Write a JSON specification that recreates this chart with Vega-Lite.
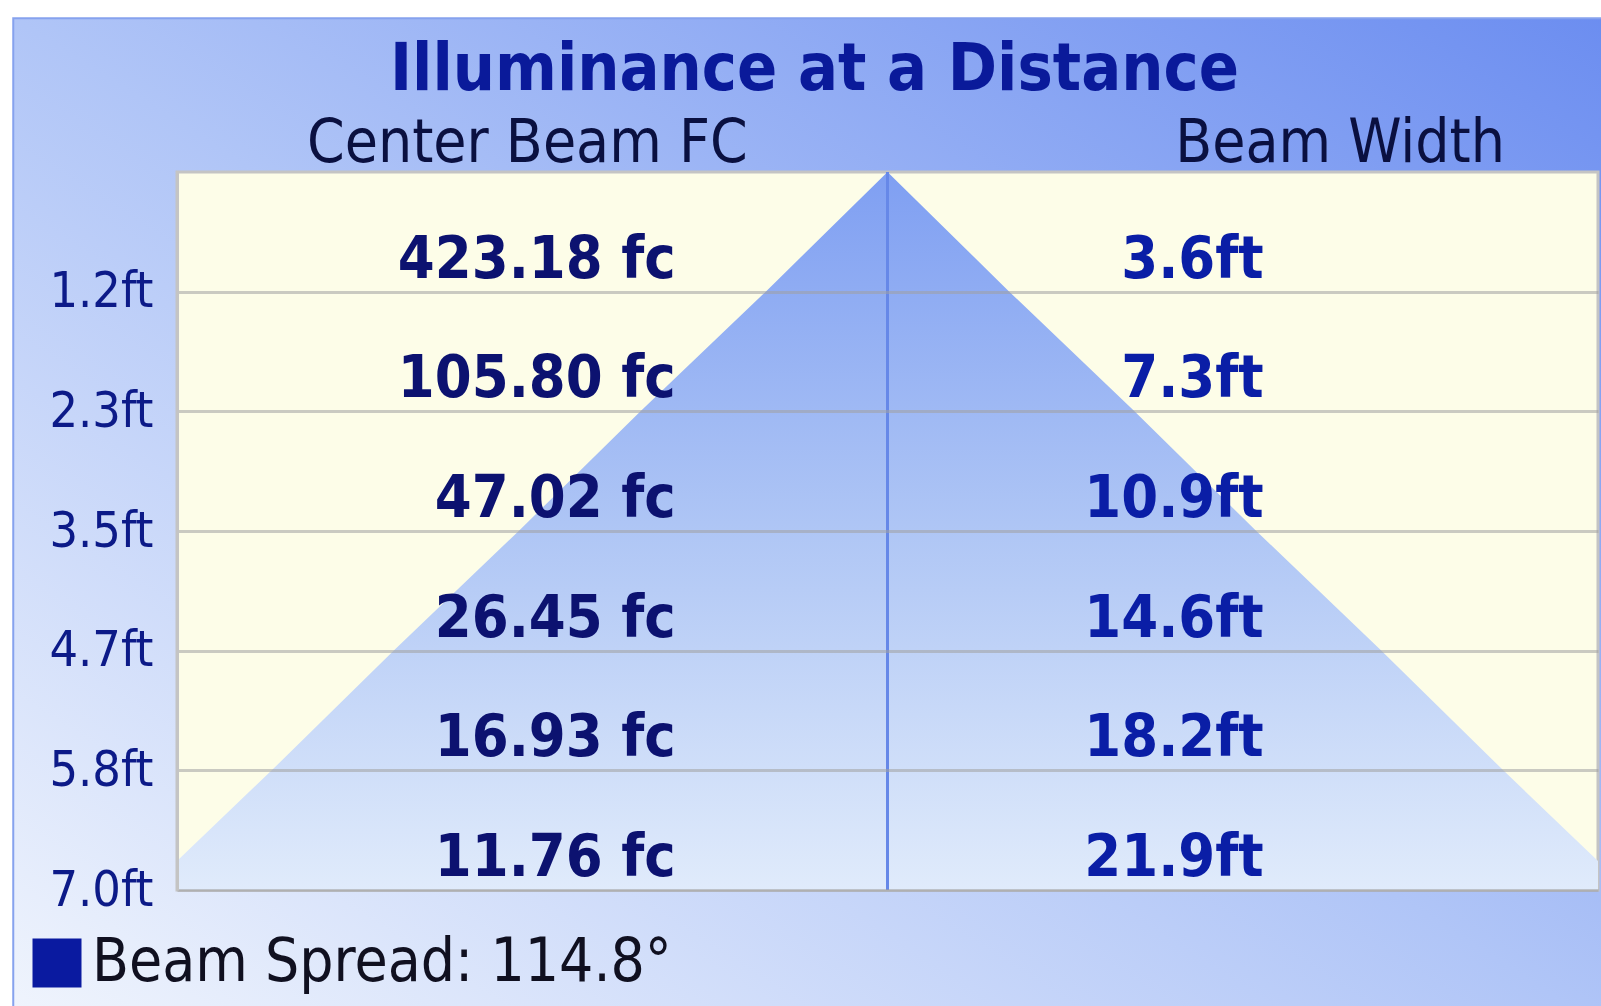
{
  "$schema": "https://vega.github.io/schema/vega-lite/v6.json",
  "width": 1421,
  "height": 718,
  "autosize": "none",
  "padding": {"left": 177, "top": 172, "right": 3, "bottom": 116},
  "background": "white",
  "datasets": {
    "rows": [
      {"dist": 1.1667, "fc": 423.18, "beam": 3.6},
      {"dist": 2.3333, "fc": 105.80, "beam": 7.3},
      {"dist": 3.5, "fc": 47.02, "beam": 10.9},
      {"dist": 4.6667, "fc": 26.45, "beam": 14.6},
      {"dist": 5.8333, "fc": 16.93, "beam": 18.2},
      {"dist": 7.0, "fc": 11.76, "beam": 21.9}
    ],
    "cone": [
      {"dist": 0, "lo": 0, "hi": 0},
      {"dist": 1.1667, "lo": -1.8, "hi": 1.8},
      {"dist": 2.3333, "lo": -3.65, "hi": 3.65},
      {"dist": 3.5, "lo": -5.45, "hi": 5.45},
      {"dist": 4.6667, "lo": -7.3, "hi": 7.3},
      {"dist": 5.8333, "lo": -9.1, "hi": 9.1},
      {"dist": 7.0, "lo": -10.95, "hi": 10.95}
    ],
    "spread": [{"label": "Beam Spread: 114.8°"}]
  },
  "layer": [
    {
      "data": {"values": [{}]},
      "mark": {
        "type": "rect",
        "clip": false,
        "stroke": "#86a2ee",
        "strokeWidth": 2,
        "fill": {
          "gradient": "linear",
          "x1": 0, "y1": 1, "x2": 1, "y2": 0,
          "stops": [
            {"offset": 0, "color": "#f2f6fd"},
            {"offset": 0.5, "color": "#b0c5f7"},
            {"offset": 1, "color": "#6a8cf0"}
          ]
        }
      },
      "encoding": {
        "x": {"datum": -12.92, "type": "quantitative"},
        "x2": {"datum": 11.2},
        "y": {"datum": -1.5, "type": "quantitative"},
        "y2": {"datum": 8.6}
      }
    },
    {
      "data": {"values": [{}]},
      "mark": {"type": "rect", "fill": "#fdfde8", "stroke": "#c4c4c4", "strokeWidth": 3},
      "encoding": {
        "x": {"datum": -10.5, "type": "quantitative"},
        "x2": {"datum": 10.5},
        "y": {"datum": 0, "type": "quantitative"},
        "y2": {"datum": 7}
      }
    },
    {
      "data": {"name": "cone"},
      "mark": {
        "type": "area",
        "orient": "horizontal",
        "clip": true,
        "fill": {
          "gradient": "linear",
          "x1": 0, "y1": 0, "x2": 0, "y2": 1,
          "stops": [
            {"offset": 0, "color": "#7f9ff2"},
            {"offset": 0.5, "color": "#afc6f5"},
            {"offset": 1, "color": "#e0ebfb"}
          ]
        }
      },
      "encoding": {
        "y": {
          "field": "dist",
          "type": "quantitative",
          "scale": {"domain": [0, 7], "reverse": true, "nice": false, "zero": false},
          "axis": {
            "title": null,
            "values": [1.1667, 2.3333, 3.5, 4.6667, 5.8333, 7.0],
            "labelExpr": "format(datum.value, '.1f') + 'ft'",
            "labelFont": "DejaVu Sans Condensed",
            "labelFontSize": 50,
            "labelColor": "#0c1a88",
            "labelPadding": 24,
            "ticks": false,
            "grid": true,
            "gridColor": "#a0a0a0",
            "gridOpacity": 0.55,
            "gridWidth": 3,
            "domain": true,
            "domainColor": "#c4c4c4",
            "domainWidth": 3,
            "zindex": 1
          }
        },
        "x": {
          "field": "lo",
          "type": "quantitative",
          "scale": {"domain": [-10.5, 10.5], "nice": false, "zero": false},
          "axis": {
            "orient": "top",
            "title": "Illuminance at a Distance",
            "titleFont": "DejaVu Sans Condensed",
            "titleFontSize": 66,
            "titleFontWeight": "bold",
            "titleColor": "#0a1a9a",
            "titleAlign": "center",
            "titleBaseline": "alphabetic",
            "titleAnchor": null,
            "titleX": 637,
            "titleY": -83,
            "values": [-5.33, 6.68],
            "labelExpr": "datum.value < 0 ? 'Center Beam FC' : 'Beam Width'",
            "labelFont": "DejaVu Sans Condensed",
            "labelFontSize": 60,
            "labelColor": "#0a1040",
            "labelBaseline": "alphabetic",
            "labelPadding": 11,
            "labelLimit": 800,
            "ticks": false,
            "domain": false,
            "grid": false,
            "zindex": 1
          }
        },
        "x2": {"field": "hi"}
      }
    },
    {
      "data": {"values": [{}]},
      "mark": {"type": "rule", "color": "#6688e8", "strokeWidth": 3},
      "encoding": {
        "x": {"datum": 0, "type": "quantitative"},
        "y": {"datum": 0, "type": "quantitative"},
        "y2": {"datum": 7}
      }
    },
    {
      "data": {"name": "rows"},
      "transform": [{"calculate": "format(datum.fc, '.2f') + ' fc'", "as": "fcText"}],
      "mark": {
        "type": "text",
        "align": "right",
        "baseline": "alphabetic",
        "dy": -14,
        "font": "DejaVu Sans Condensed",
        "fontWeight": "bold",
        "fontSize": 59,
        "color": "#0c1270"
      },
      "encoding": {
        "x": {"datum": -3.13, "type": "quantitative"},
        "y": {"field": "dist", "type": "quantitative"},
        "text": {"field": "fcText", "type": "nominal"}
      }
    },
    {
      "data": {"name": "rows"},
      "transform": [{"calculate": "format(datum.beam, '.1f') + 'ft'", "as": "beamText"}],
      "mark": {
        "type": "text",
        "align": "right",
        "baseline": "alphabetic",
        "dy": -14,
        "font": "DejaVu Sans Condensed",
        "fontWeight": "bold",
        "fontSize": 59,
        "color": "#0a1ea6"
      },
      "encoding": {
        "x": {"datum": 5.56, "type": "quantitative"},
        "y": {"field": "dist", "type": "quantitative"},
        "text": {"field": "beamText", "type": "nominal"}
      }
    },
    {
      "data": {"name": "spread"},
      "mark": {"type": "point", "filled": true, "size": 0, "shape": "square"},
      "encoding": {
        "x": {"datum": 0, "type": "quantitative"},
        "y": {"datum": 3, "type": "quantitative"},
        "color": {
          "field": "label",
          "type": "nominal",
          "scale": {"range": ["#0a1aa0"]},
          "legend": {
            "title": null,
            "orient": "none",
            "legendX": -150,
            "legendY": 761,
            "padding": 0,
            "symbolType": "square",
            "symbolSize": 2400,
            "symbolOpacity": 1,
            "symbolStrokeWidth": 0,
            "labelFont": "DejaVu Sans Condensed",
            "labelFontSize": 60,
            "labelColor": "#101020",
            "labelOffset": 5,
            "labelLimit": 800
          }
        }
      }
    }
  ]
}
